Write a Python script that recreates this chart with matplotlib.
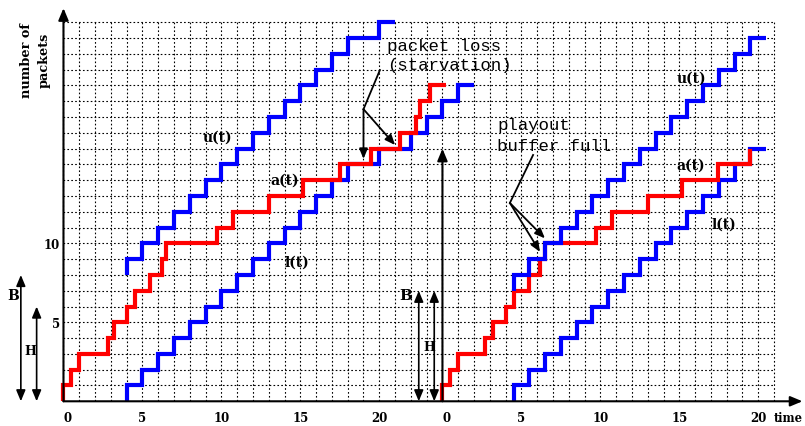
import matplotlib.pyplot as plt

# ---- left scenario (starvation), buffer size B1, start threshold H1 ----
a1_t = [0, 0, 0.5, 1.0, 2.8, 3.2, 4.0, 4.5, 5.5, 6.25, 6.5, 9.7, 10.75, 13.0, 15.2,
        17.5, 19.5, 21.3, 22.35, 22.6, 23.2, 24.2]
a1_v = [0, 1, 2, 3, 4, 5, 6, 7, 8, 9, 10, 11, 12, 13, 14, 15, 16, 17, 18, 19, 20, 20]
l1_t = [4, 4, 5, 6, 7, 8, 9, 10, 11, 12, 13, 14, 15, 16, 17, 18, 20, 22, 23, 24, 25, 26]
l1_v = [0, 1, 2, 3, 4, 5, 6, 7, 8, 9, 10, 11, 12, 13, 14, 15, 16, 17, 18, 19, 20, 20]
u1_t = [4, 4, 5, 6, 7, 8, 9, 10, 11, 12, 13, 14, 15, 16, 17, 18, 20, 21]
u1_v = [8, 9, 10, 11, 12, 13, 14, 15, 16, 17, 18, 19, 20, 21, 22, 23, 24, 24]
B1, H1 = 8, 6

# ---- right scenario (buffer full) ----
a2_t = [0, 0, 0.5, 1.0, 2.7, 3.2, 4.0, 4.5, 5.5, 6.2, 6.5, 9.7, 10.75, 13.0, 15.2, 17.45, 19.5]
a2_v = [0, 1, 2, 3, 4, 5, 6, 7, 8, 9, 10, 11, 12, 13, 14, 15, 16]
l2_t = [4.5, 4.5, 5.5, 6.5, 7.5, 8.5, 9.5, 10.5, 11.5, 12.5, 13.5, 14.5, 15.5, 16.5,
        17.5, 18.5, 19.5, 20.5]
l2_v = [0, 1, 2, 3, 4, 5, 6, 7, 8, 9, 10, 11, 12, 13, 14, 15, 16, 16]
u2_t = [4.5, 4.5, 5.5, 6.5, 7.5, 8.5, 9.5, 10.5, 11.5, 12.5, 13.5, 14.5, 15.5, 16.5,
        17.5, 18.5, 19.5, 20.5]
u2_v = [7, 8, 9, 10, 11, 12, 13, 14, 15, 16, 17, 18, 19, 20, 21, 22, 23, 23]
B2, H2 = 7, 7

SHIFT = 24          # time origin of the second diagram
x_ticks = [0, 5, 10, 15, 20]
y_ticks = [5, 10]

fig = plt.figure(figsize=(8.05, 4.27), dpi=100)
ax = fig.add_axes([0, 0, 1, 1])
ax.set_xlim(-4.02, 46.96)
ax.set_ylim(-1.565, 25.478)
ax.axis('off')

serif = dict(family='DejaVu Serif', weight='bold')
mono = dict(family='Liberation Mono', fontsize=12.5)

# dotted grid
dots = (0, (1.5, 2))
ax.vlines(range(0, 46), 0, 24, colors='black', linestyles=[dots], linewidth=0.8)
ax.hlines(range(1, 25), 0, 45, colors='black', linestyles=[dots], linewidth=0.8)


def arrow(x0, y0, x1, y1, style='-|>', lw=1.5, ms=12):
    ax.annotate('', xy=(x1, y1), xytext=(x0, y0),
                arrowprops=dict(arrowstyle=style + ',head_length=0.6,head_width=0.25',
                                lw=lw, color='black', shrinkA=0, shrinkB=0,
                                mutation_scale=ms))


def stairs(t, v, color, shift=0):
    ax.plot([x + shift for x in t], v, drawstyle='steps-post', color=color, lw=3,
            solid_joinstyle='miter', solid_capstyle='butt')


# axes
arrow(0, 0, 46.8, 0)
arrow(0, 0, 0, 24.9)
arrow(SHIFT, 0, SHIFT, 16)

# curves
stairs(l1_t, l1_v, 'blue')
stairs(a1_t, a1_v, 'red')
stairs(u1_t, u1_v, 'blue')
stairs(l2_t, l2_v, 'blue', SHIFT)
stairs(a2_t, a2_v, 'red', SHIFT)
stairs(u2_t, u2_v, 'blue', SHIFT)

# tick labels
for off in (0, SHIFT):
    for t in x_ticks:
        ax.text(off + t + (0.25 if t == 0 else 0), -1.23, str(t), ha='center',
                va='baseline', fontsize=8.5, **serif)
for v in y_ticks:
    ax.text(-0.22, v - 0.31, str(v), ha='right', va='baseline', fontsize=8.5, **serif)
ax.text(44.98, -1.23, 'time', ha='left', va='baseline', fontsize=8.3, **serif)
ax.text(-2.35, 21.64, 'number of', rotation=90, ha='center', va='center', fontsize=9.3, **serif)
ax.text(-1.2, 21.64, 'packets', rotation=90, ha='center', va='center', fontsize=9.3, **serif)

# B / H markers
arrow(-2.7, 0, -2.7, B1, '<|-|>', lw=1.2, ms=11)
arrow(-1.7, 0, -1.7, H1, '<|-|>', lw=1.2, ms=11)
ax.text(-3.16, 6.48, 'B', ha='center', va='baseline', fontsize=10, **serif)
ax.text(-2.07, 3.0, 'H', ha='center', va='baseline', fontsize=9, **serif)
arrow(SHIFT - 1.5, 0, SHIFT - 1.5, B2, '<|-|>', lw=1.2, ms=11)
arrow(SHIFT - 0.52, 0, SHIFT - 0.52, H2, '<|-|>', lw=1.2, ms=11)
ax.text(SHIFT - 2.34, 6.48, 'B', ha='center', va='baseline', fontsize=11, **serif)
ax.text(SHIFT - 0.84, 3.25, 'H', ha='center', va='baseline', fontsize=9, **serif)

# curve labels
ax.text(9.78, 16.5, 'u(t)', ha='center', va='baseline', fontsize=10, **serif)
ax.text(14.03, 13.76, 'a(t)', ha='center', va='baseline', fontsize=10, **serif)
ax.text(14.81, 8.59, 'l(t)', ha='center', va='baseline', fontsize=10, **serif)
ax.text(39.76, 20.24, 'u(t)', ha='center', va='baseline', fontsize=10, **serif)
ax.text(39.71, 14.71, 'a(t)', ha='center', va='baseline', fontsize=10, **serif)
ax.text(41.81, 11.02, 'l(t)', ha='center', va='baseline', fontsize=10, **serif)

# annotations
ax.text(20.49, 22.27, 'packet loss', ha='left', va='baseline', **mono)
ax.text(20.49, 21.05, '(starvation)', ha='left', va='baseline', **mono)
ax.plot([20.04, 19.0], [20.98, 18.5], color='black', lw=1.3)
arrow(19.0, 18.5, 19.0, 15.35, lw=1.3, ms=10)
arrow(19.0, 18.5, 21.0, 16.23, lw=1.3, ms=10)

ax.text(27.45, 17.25, 'playout', ha='left', va='baseline', **mono)
ax.text(27.45, 15.93, 'buffer full', ha='left', va='baseline', **mono)
ax.plot([29.74, 28.27], [15.6, 12.56], color='black', lw=1.3)
arrow(28.27, 12.56, 30.18, 9.46, lw=1.3, ms=10)
arrow(28.27, 12.56, 30.49, 10.32, lw=1.3, ms=10)

fig.savefig('out.png', dpi=100)
